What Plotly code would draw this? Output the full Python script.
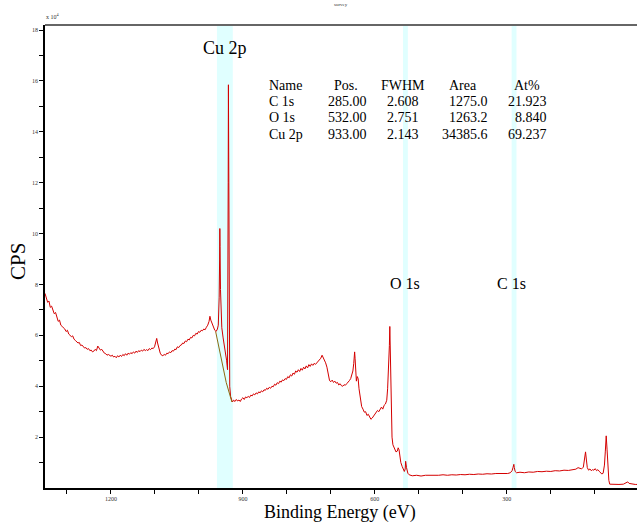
import plotly.graph_objects as go

# ---------------- data ----------------
energy = [1350, 1347, 1344, 1341, 1338, 1335, 1332, 1329, 1326, 1323, 1320, 1317, 1314, 1311, 1308, 1305,
          1302, 1299, 1296, 1293, 1290, 1287, 1284, 1281, 1278, 1275, 1272, 1269, 1266, 1263, 1260, 1257,
          1254, 1251, 1248, 1245, 1242, 1239, 1236, 1233, 1230, 1227, 1224, 1221, 1218, 1215, 1212, 1209,
          1206, 1203, 1200, 1197, 1194, 1191, 1188, 1185, 1182, 1179, 1176, 1173, 1170, 1167, 1164, 1161,
          1158, 1155, 1152, 1149, 1146, 1143, 1140, 1137, 1134, 1131, 1128, 1125, 1122, 1119, 1116, 1113,
          1110, 1107, 1104, 1101, 1098, 1096, 1094, 1091, 1088, 1085, 1082, 1079, 1076, 1073, 1070, 1067,
          1064, 1061, 1058, 1055, 1052, 1049, 1046, 1043, 1040, 1037, 1034, 1031, 1028, 1025, 1022, 1019,
          1016, 1013, 1010, 1007, 1004, 1001, 998, 995, 992, 989, 986, 983, 980, 977, 975, 973,
          970, 967, 964, 961, 958, 956, 954, 953, 952.5, 952, 951, 950, 948, 945, 942, 939,
          937, 935, 934, 933.5, 933, 932.5, 932, 931, 930, 928, 926, 924, 921, 918, 915, 912,
          909, 906, 903, 900, 897, 894, 891, 888, 885, 882, 879, 876, 873, 870, 867, 864,
          861, 858, 855, 852, 849, 846, 843, 840, 837, 834, 831, 828, 825, 822, 819, 816,
          813, 810, 807, 804, 801, 798, 795, 792, 789, 786, 783, 780, 777, 774, 771, 768,
          765, 762, 759, 756, 753, 750, 747, 744, 741, 738, 735, 732, 729, 726, 723, 720,
          718, 715, 712, 709, 706, 703, 700, 697, 694, 691, 688, 685, 682, 679, 676, 673,
          670, 667, 664, 661, 658, 655, 652, 650, 648, 646, 645, 644, 642, 640, 638, 636,
          634, 632, 630, 627, 624, 621, 618, 615, 612, 609, 606, 603, 600, 597, 594, 591,
          588, 585, 582, 579, 576, 573, 571, 569, 567, 566, 565, 564, 563, 562, 561, 559,
          557, 555, 552, 549, 547, 545, 543, 541, 538, 535, 533, 531, 530, 528, 525, 522,
          515, 505, 495, 485, 475, 465, 455, 445, 435, 425, 415, 405, 395, 385, 375, 365,
          355, 345, 335, 325, 315, 305, 298, 292, 288, 286, 284, 283, 281, 278, 270, 260,
          250, 240, 230, 220, 210, 200, 190, 180, 170, 160, 150, 143, 138, 134, 130, 126,
          124, 121, 119, 117, 114, 111, 108, 105, 102, 99, 96, 93, 90, 87, 84, 81,
          78, 76, 74, 72, 70, 68, 66, 60, 55, 45, 35, 28, 25, 22, 15, 8, 4]

cps = [7.65, 7.45, 7.30, 7.35, 7.10, 7.15, 6.95, 6.85, 6.90, 6.70, 6.55, 6.60, 6.40, 6.35, 6.30, 6.25,
       6.15, 6.20, 6.05, 6.00, 5.95, 5.98, 5.85, 5.80, 5.75, 5.70, 5.72, 5.60, 5.62, 5.55, 5.50, 5.52,
       5.45, 5.48, 5.40, 5.42, 5.35, 5.38, 5.45, 5.40, 5.58, 5.50, 5.42, 5.45, 5.35, 5.30, 5.28, 5.22,
       5.25, 5.20, 5.18, 5.22, 5.15, 5.18, 5.12, 5.20, 5.15, 5.22, 5.17, 5.25, 5.20, 5.28, 5.22, 5.30,
       5.26, 5.32, 5.28, 5.35, 5.30, 5.38, 5.33, 5.40, 5.36, 5.42, 5.38, 5.45, 5.40, 5.44, 5.40, 5.48,
       5.44, 5.50, 5.48, 5.55, 5.75, 5.88, 5.70, 5.45, 5.30, 5.22, 5.20, 5.25, 5.22, 5.30, 5.28, 5.35,
       5.32, 5.40, 5.38, 5.46, 5.44, 5.55, 5.52, 5.60, 5.62, 5.70, 5.68, 5.78, 5.75, 5.85, 5.82, 5.92,
       5.90, 6.00, 5.98, 6.08, 6.05, 6.15, 6.12, 6.20, 6.18, 6.25, 6.22, 6.32, 6.40, 6.55, 6.75, 6.60,
       6.45, 6.35, 6.20, 6.15, 6.25, 6.40, 7.50, 9.00, 10.20, 9.50, 7.80, 6.80, 6.30, 5.90, 5.60, 5.30,
       5.00, 4.65, 7.00, 12.00, 15.85, 14.00, 9.00, 5.00, 4.00, 3.60, 3.42, 3.38, 3.45, 3.40, 3.48, 3.42,
       3.46, 3.40, 3.50, 3.55, 3.48, 3.58, 3.55, 3.60, 3.56, 3.65, 3.62, 3.70, 3.66, 3.74, 3.70, 3.78,
       3.74, 3.82, 3.78, 3.86, 3.84, 3.92, 3.88, 3.96, 3.92, 4.00, 3.98, 4.08, 4.04, 4.14, 4.10, 4.20,
       4.16, 4.25, 4.22, 4.30, 4.27, 4.38, 4.33, 4.45, 4.40, 4.52, 4.47, 4.60, 4.55, 4.65, 4.58, 4.70,
       4.63, 4.75, 4.68, 4.80, 4.72, 4.85, 4.78, 4.88, 4.82, 4.90, 4.86, 4.92, 4.95, 5.00, 5.10, 5.22,
       5.15, 5.05, 4.92, 4.75, 4.40, 4.22, 4.18, 4.24, 4.15, 4.20, 4.12, 4.15, 4.05, 4.10, 4.02, 4.00,
       4.06, 4.04, 4.10, 4.15, 4.22, 4.30, 4.45, 4.60, 4.90, 5.35, 5.10, 4.60, 4.20, 4.38, 4.30, 3.90,
       3.60, 3.35, 3.20, 3.10, 2.98, 3.00, 2.85, 2.90, 2.78, 2.70, 2.75, 2.82, 2.90, 2.95, 3.05, 3.00,
       3.12, 3.18, 3.10, 3.25, 3.30, 3.45, 3.90, 4.60, 5.60, 6.35, 5.50, 4.40, 3.40, 2.60, 2.00, 1.70,
       1.60, 1.50, 1.42, 1.45, 1.58, 1.50, 1.25, 1.00, 0.85, 0.72, 0.65, 0.75, 1.05, 0.80, 0.58, 0.52,
       0.48, 0.50, 0.47, 0.50, 0.49, 0.51, 0.50, 0.52, 0.50, 0.52, 0.51, 0.53, 0.52, 0.54, 0.53, 0.55,
       0.54, 0.56, 0.55, 0.57, 0.56, 0.58, 0.57, 0.60, 0.68, 0.80, 0.93, 0.80, 0.65, 0.60, 0.62, 0.60,
       0.63, 0.62, 0.65, 0.64, 0.66, 0.65, 0.68, 0.67, 0.70, 0.69, 0.72, 0.74, 0.80, 0.76, 0.75, 0.82,
       1.10, 1.42, 1.10, 0.80, 0.70, 0.75, 0.68, 0.72, 0.70, 0.76, 0.68, 0.72, 0.66, 0.60, 0.55, 0.58,
       0.90, 1.45, 2.05, 1.50, 0.70, 0.30, 0.15, 0.14, 0.15, 0.14, 0.15, 0.20, 0.24, 0.18, 0.15, 0.14, 0.14]

bg_energy = [962, 950, 938, 925]
bg_cps = [6.15, 5.10, 4.15, 3.38]

band_names = ["Cu 2p", "O 1s", "C 1s"]
band_lo = [923, 525, 278]
band_hi = [959, 536, 289]
label_energy = [941, 532, 289]
label_cps = [17.3, 8.03, 8.03]

tbl_header = ["Name", "Pos.", "FWHM", "Area", "At%"]
tbl_name = ["C 1s", "O 1s", "Cu 2p"]
tbl_pos = ["285.00", "532.00", "933.00"]
tbl_fwhm = ["2.608", "2.751", "2.143"]
tbl_area = ["1275.0", "1263.2", "34385.6"]
tbl_at = ["21.923", "8.840", "69.237"]

x_tickvals = [1200, 900, 600, 300]
x_ticktext = ["1200", "900", "600", "300"]
x_minorvals = [1300, 1100, 1000, 800, 700, 500, 400, 200, 100]
y_tickvals = [2, 4, 6, 8, 10, 12, 14, 16, 18]
y_ticktext = ["2", "4", "6", "8", "10", "12", "14", "16", "18"]
y_minorvals = [1, 3, 5, 7, 9, 11, 13, 15, 17]

# ---------------- layout helpers ----------------
W, H = 637, 523
L, R, T, B = 45, 0, 25, 35
PW, PH = W - L - R, H - T - B


def px(x):
    return (x - L) / PW


def py(y):
    return (H - B - y) / PH


SERIF = "Liberation Serif"

fig = go.Figure()

fig.add_trace(go.Scatter(x=energy, y=cps, mode="lines",
                         line=dict(color="#D40000", width=1), hoverinfo="skip"))
fig.add_trace(go.Scatter(x=bg_energy, y=bg_cps, mode="lines",
                         line=dict(color="#8B6A10", width=1), hoverinfo="skip"))

shapes = []
for lo, hi in zip(band_lo, band_hi):
    shapes.append(dict(type="rect", xref="x", yref="paper", x0=lo, x1=hi, y0=0, y1=1,
                       fillcolor="#E0FFFF", line=dict(width=0), layer="below"))
shapes.append(dict(type="line", xref="paper", yref="paper", x0=0, x1=1, y0=1, y1=1,
                   line=dict(color="#666666", width=2)))

ann = []
for name, e, c, fs in zip(band_names, label_energy, label_cps, [18, 16, 16]):
    ann.append(dict(x=e, y=c, xref="x", yref="y", text=name, showarrow=False,
                    xanchor="center", yanchor="middle",
                    font=dict(family=SERIF, size=fs, color="black")))

# table
FS = 14
row_y = [85, 101.5, 118, 134.5]
ann.append(dict(x=px(267), y=py(row_y[0]), text=tbl_header[0], xanchor="left"))
ann.append(dict(x=px(332), y=py(row_y[0]), text=tbl_header[1], xanchor="left"))
ann.append(dict(x=px(402.5), y=py(row_y[0]), text=tbl_header[2], xanchor="center"))
ann.append(dict(x=px(447), y=py(row_y[0]), text=tbl_header[3], xanchor="left"))
ann.append(dict(x=px(512), y=py(row_y[0]), text=tbl_header[4], xanchor="left"))
for i in range(3):
    yy = py(row_y[i + 1])
    ann.append(dict(x=px(267), y=yy, text=tbl_name[i], xanchor="left"))
    ann.append(dict(x=px(369), y=yy, text=tbl_pos[i], xanchor="right"))
    ann.append(dict(x=px(403), y=yy, text=tbl_fwhm[i], xanchor="center"))
    ann.append(dict(x=px(490), y=yy, text=tbl_area[i], xanchor="right"))
    ann.append(dict(x=px(549), y=yy, text=tbl_at[i], xanchor="right"))
for a in ann[3:]:
    a.update(xref="paper", yref="paper", showarrow=False, yanchor="middle",
             font=dict(family=SERIF, size=FS, color="black"))

# axis titles and misc text
ann.append(dict(x=px(18), y=py(262), xref="paper", yref="paper", text="CPS", textangle=-90,
                xanchor="center", yanchor="middle",
                showarrow=False, font=dict(family=SERIF, size=21, color="black")))
ann.append(dict(x=px(340), y=py(512), xref="paper", yref="paper", text="Binding Energy (eV)",
                xanchor="center", yanchor="middle", borderpad=0,
                showarrow=False, font=dict(family=SERIF, size=18, color="black")))
ann.append(dict(x=px(44), y=py(22), xref="paper", yref="paper", text="x 10<sup>4</sup>",
                xanchor="left", yanchor="bottom", showarrow=False,
                font=dict(family=SERIF, size=6, color="#333333")))
ann.append(dict(x=px(341), y=py(5), xref="paper", yref="paper", text="survey",
                xanchor="center", yanchor="middle",
                showarrow=False, font=dict(family=SERIF, size=5, color="#333333")))

fig.update_layout(
    width=W, height=H,
    margin=dict(l=L, r=R, t=T, b=B, pad=0),
    paper_bgcolor="white", plot_bgcolor="white",
    showlegend=False,
    shapes=shapes, annotations=ann,
    xaxis=dict(range=[1350, 4], showgrid=False, zeroline=False, showline=True,
               linecolor="black", linewidth=1.5, ticks="outside", ticklen=4,
               tickcolor="black", tickvals=x_tickvals, ticktext=x_ticktext,
               minor=dict(tickvals=x_minorvals, ticks="outside", ticklen=4,
                          tickcolor="black", showgrid=False),
               tickfont=dict(family=SERIF, size=6, color="#333333")),
    yaxis=dict(range=[0, 18.2], showgrid=False, zeroline=False, showline=True,
               linecolor="black", linewidth=1.5, ticks="outside", ticklen=4,
               tickcolor="black", tickvals=y_tickvals, ticktext=y_ticktext,
               minor=dict(tickvals=y_minorvals, ticks="outside", ticklen=4,
                          tickcolor="black", showgrid=False),
               tickfont=dict(family=SERIF, size=6, color="#333333")),
)

fig.write_html("out.html")
